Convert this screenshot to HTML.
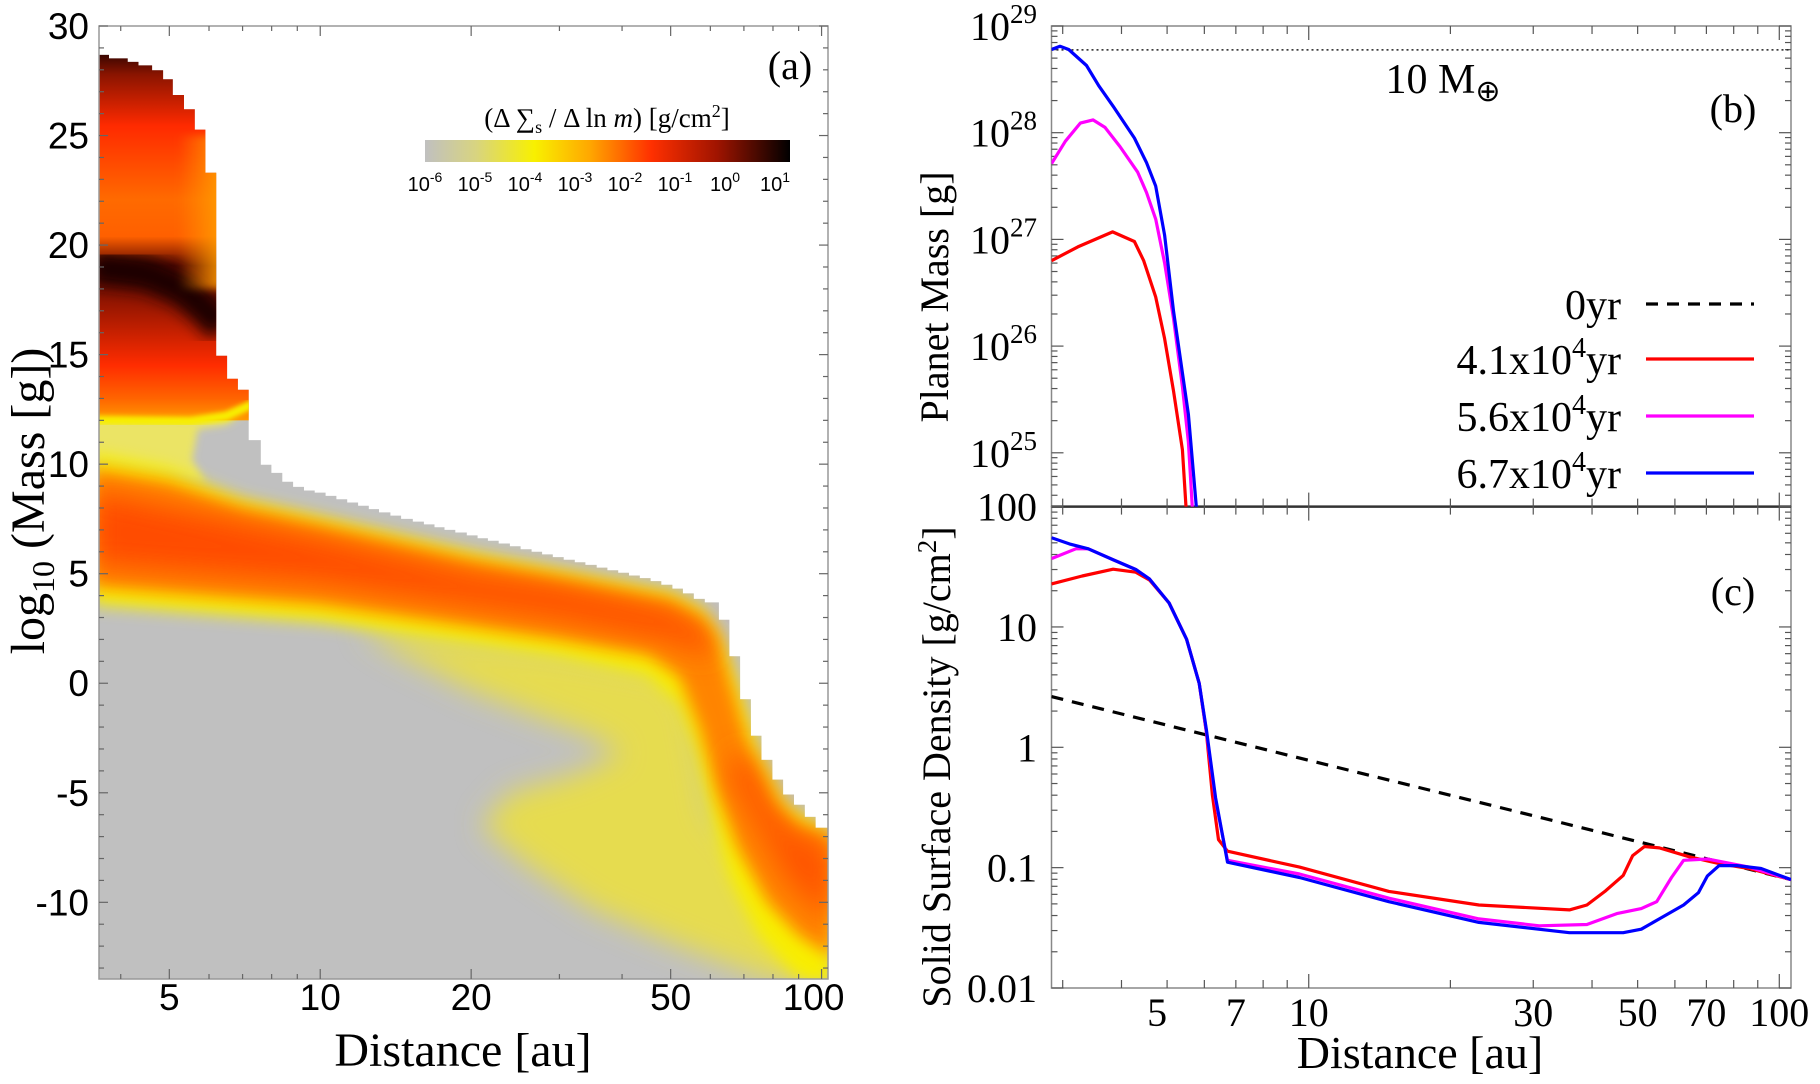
<!DOCTYPE html>
<html><head><meta charset="utf-8"><style>
html,body{margin:0;padding:0;background:#fff;}
svg{display:block;}
.serif{font-family:"Liberation Serif",serif;}
.sans{font-family:"Liberation Sans",sans-serif;}
</style></head><body>
<svg id="fig" width="1820" height="1084" viewBox="0 0 1820 1084">
<defs>
<filter id="blur8" x="-20%" y="-20%" width="140%" height="140%"><feGaussianBlur stdDeviation="8"/></filter>
<filter id="blur14" x="-20%" y="-20%" width="140%" height="140%"><feGaussianBlur stdDeviation="14"/></filter>
<filter id="blur4" x="-20%" y="-20%" width="140%" height="140%"><feGaussianBlur stdDeviation="4"/></filter>
<filter id="blur2" x="-20%" y="-20%" width="140%" height="140%"><feGaussianBlur stdDeviation="2.5"/></filter>
<linearGradient id="cbGrad" x1="0" y1="0" x2="1" y2="0">
<stop offset="0" stop-color="#c0c0c0"/><stop offset="0.14" stop-color="#d8d480"/>
<stop offset="0.3" stop-color="#f8f000"/><stop offset="0.45" stop-color="#ffa800"/>
<stop offset="0.62" stop-color="#ff3000"/><stop offset="0.8" stop-color="#a01400"/>
<stop offset="1" stop-color="#000000"/></linearGradient>
<clipPath id="clipA"><path id="envClip"/></clipPath>
<clipPath id="clipTop"><path id="topClip"/></clipPath>
<clipPath id="clipB"><rect x="1051.5" y="26" width="739.5" height="480.6"/></clipPath>
<clipPath id="clipC"><rect x="1051.5" y="506.6" width="739.5" height="481.4"/></clipPath>
</defs>
<g id="heat"></g>
<g id="axA"></g>
<g id="axB"></g>
<g id="axC"></g>
<g id="lines"></g>

<text class="serif" x="790" y="79" font-size="40" text-anchor="middle">(a)</text>
<text class="serif" x="607" y="127" font-size="27" text-anchor="middle">(Δ ∑<tspan font-size="18" dy="6">s</tspan><tspan dy="-6"> / Δ ln </tspan><tspan font-style="italic">m</tspan>) [g/cm<tspan font-size="18" dy="-10">2</tspan><tspan dy="10">]</tspan></text>
<rect x="425" y="140" width="365" height="22" fill="url(#cbGrad)"/>
<g id="cbLabels" class="sans" font-size="20"></g>

<text class="serif" x="463" y="1066" font-size="48" text-anchor="middle">Distance [au]</text>
<text class="serif" font-size="48" text-anchor="middle" transform="translate(44,501) rotate(-90)">log<tspan font-size="32" dy="10">10</tspan><tspan dy="-10"> (Mass [g])</tspan></text>

<text class="serif" x="1420" y="1068" font-size="46" text-anchor="middle">Distance [au]</text>
<text class="serif" font-size="40" text-anchor="middle" transform="translate(948,297) rotate(-90)">Planet Mass [g]</text>
<text class="serif" font-size="40" text-anchor="middle" transform="translate(950,767) rotate(-90)">Solid Surface Density [g/cm<tspan font-size="27" dy="-14">2</tspan><tspan dy="14">]</tspan></text>

<text class="serif" x="1443" y="93" font-size="42" text-anchor="middle">10 M<tspan font-size="30" dy="8">⊕</tspan></text>
<text class="serif" x="1733" y="122" font-size="40" text-anchor="middle">(b)</text>
<text class="serif" x="1733" y="605" font-size="40" text-anchor="middle">(c)</text>
<g id="legend" class="serif" font-size="42"></g>
</svg>
<script>
const NS='http://www.w3.org/2000/svg';
const svg=document.getElementById('fig');
function mk(tag,attrs,parent){const e=document.createElementNS(NS,tag);for(const k in attrs)e.setAttribute(k,attrs[k]);(parent||svg).appendChild(e);return e;}

// ---------- Panel (a) data ----------
const stepEdgesAu=[3.79,4.13,4.34,4.62,4.86,5.08,5.35,5.62,5.90,6.20,6.52,6.85,7.20,7.61,7.99,8.40,8.83,
9.28,9.75,10.25,10.77,11.32,11.9,12.5,13.1,13.8,14.5,15.3,16.1,16.9,17.7,18.6,19.6,20.6,21.6,22.7,23.9,25.1,26.4,27.7,29.1,30.6,32.2,33.8,35.6,37.4,39.3,41.3,43.4,45.6,47.9,50.4,52.9,55.6,58.5,
62.4,65.5,68.8,72.3,75.9,79.8,83.8,88.1,92.6,97.3,103];
const stepTopLogM=[28.68,28.52,28.36,28.2,27.98,27.57,26.85,26.2,25.27,23.3,14.95,13.9,13.4,11.1,9.97,9.6,9.2,
8.96,8.8,8.7,8.55,8.4,8.25,8.1,7.95,7.8,7.65,7.5,7.38,7.25,7.12,7.0,6.88,6.75,6.62,6.5,6.38,6.25,6.12,6.0,5.88,5.76,5.64,5.52,5.4,5.28,5.16,5.04,4.92,4.8,4.66,4.5,4.32,4.1,3.85,
3.69,2.9,1.23,-0.73,-2.4,-3.5,-4.4,-5.08,-5.55,-6.1,-6.6];
const paleTongue=[[12,2.5],[30,1.5],[50,0.5],[55,-1],[60,-6],[103,-12],[103,-13.6],[80,-13.6],[50,-11.8],[35,-10.3],[26,-8.3],[21,-6.5],[24,-5],[32,-4.2],[40,-3.2],[34,-2.3],[28,-1.6],[20,-0.3],[14,1.5]];
const yellowUpper=[[3.5,10.5],[5,9.8],[6,9.0],[7,8.4],[10,7.6],[20,6.0],[30,5.2],[50,4.2],[58,3.4],[63,2.2],[68,0],[75,-3],[85,-5.5],[105,-6.8]];
const yellowLower=[[3.5,3.6],[10,2.8],[20,1.8],[30,1.2],[45,0.3],[52,-1],[56,-3],[60,-6],[66,-9],[75,-11.5],[90,-13.5],[105,-13.8]];
const orangeUpper=[[3.5,9.8],[5,9.2],[7,8.0],[10,7.2],[20,5.6],[30,4.8],[50,3.8],[58,3.0],[62,2.0],[66,0],[72,-3],[80,-5.5],[90,-6.5],[105,-7]];
const orangeLower=[[3.5,4.4],[10,3.6],[20,2.6],[30,2.0],[45,1.3],[52,0.3],[57,-2],[62,-5],[68,-7.5],[78,-10],[90,-11.5],[105,-12.5]];
const coreUpper=[[3.5,8.8],[10,6.6],[20,5.0],[30,4.4],[50,3.3],[60,2.2]];
const coreLower=[[3.5,5.4],[10,4.6],[20,3.6],[30,3.0],[50,2.0],[60,1.2]];
const coreRUpper=[[70,-3],[85,-6.5],[105,-7.5]];
const coreRLower=[[65,-4],[85,-9],[105,-11]];
const midYellow=[[3.5,12.1],[5.5,12.0],[6.5,12.3],[7.2,12.9],[7.45,12.7],[6.5,11.8],[5.7,11.6],[5.55,10.2],[5.9,9.2],[5,9.6],[3.5,10.2]];
const topEdgeLine=[[3.5,12.0],[5.5,11.95],[6.5,12.2],[7.35,12.75]];
const darkArc=[[3.5,19.0],[4.5,18.7],[5.3,18.0],[5.9,17.1],[6.4,16.2]];
const cbTickExp=[-6,-5,-4,-3,-2,-1,0,1];

// ---------- Panel (b) data ----------
const bRedAu=[2.84,3.23,3.83,4.26,4.46,4.73,4.94,5.16,5.39,5.52];
const bRedM=[26.80,26.93,27.07,26.98,26.80,26.46,26.07,25.58,25.03,24.3];
const bMagAu=[2.84,3.04,3.27,3.48,3.69,3.97,4.33,4.52,4.73,4.94,5.16,5.39,5.55,5.69];
const bMagM=[27.71,27.92,28.09,28.12,28.05,27.87,27.63,27.44,27.19,26.78,26.26,25.62,25.10,24.3];
const bBluAu=[2.84,2.96,3.09,3.37,3.58,3.85,4.26,4.52,4.73,4.94,5.16,5.39,5.55,5.82];
const bBluM=[28.78,28.81,28.78,28.63,28.44,28.24,27.95,27.72,27.50,27.04,26.33,25.75,25.36,24.3];
const tenEarthLogM=28.776;
const bTickExp=[25,26,27,28,29];

// ---------- Panel (c) data ----------
const cRedAu=[2.84,3.3,3.84,4.29,4.59,5.05,5.5,5.85,6.06,6.24,6.43,6.72,9.56,14.8,23.0,35.8,39.0,42.6,46.6,48.8,51.7,55.6,64.4,74.5,86.2,105.9];
const cRedS=[22.8,26.5,30.2,28.5,24.5,15.8,7.9,3.4,1.33,0.40,0.171,0.137,0.101,0.0635,0.0489,0.0446,0.0489,0.0635,0.0863,0.126,0.150,0.146,0.123,0.108,0.0984,0.0796];
const cMagAu=[2.84,3.2,3.4,3.85,4.29,4.59,5.05,5.5,5.85,6.06,6.34,6.72,9.56,14.8,23.0,30.9,39.0,45.3,50.9,54.9,59.0,62.6,70.3,86.2,105.9];
const cMagS=[37,44.6,44.6,36,30,25,15.8,7.9,3.4,1.35,0.36,0.115,0.0885,0.0557,0.0375,0.0329,0.0337,0.0417,0.0457,0.0521,0.0828,0.115,0.118,0.101,0.0796];
const cBluAu=[2.84,3.1,3.4,3.85,4.29,4.59,5.05,5.5,5.85,6.06,6.34,6.72,9.56,14.8,23.0,35.8,46.6,50.9,55.6,62.6,67.3,70.3,74.5,81.3,91.5,105.9];
const cBluS=[55.2,49,44.6,36,30,25,15.8,7.9,3.4,1.4,0.38,0.111,0.0828,0.0521,0.0351,0.0288,0.0288,0.0308,0.0375,0.0489,0.0619,0.0851,0.104,0.104,0.0984,0.0796];
const c0Au=[2.84,10,30,105.9];
const c0S=[2.64,0.78,0.27,0.0796];
const cTickVals=[0.01,0.1,1,10,100];
const cTickLabels=['0.01','0.1','1','10','100'];
const bcXTicks=[5,7,10,30,50,70,100];
const aXTicks=[5,10,20,50,100];
const aYTicks=[-10,-5,0,5,10,15,20,25,30];

// ---------- Axis functions ----------
const A={x0:99,x1:828,y0:26,y1:979,l0:Math.log10(3.62),l1:Math.log10(103),m0:-13.5,m1:30};
function xa(au){return A.x0+(Math.log10(au)-A.l0)/(A.l1-A.l0)*(A.x1-A.x0);}
function ya(m){return A.y0+(A.m1-m)/(A.m1-A.m0)*(A.y1-A.y0);}
const BC={x0:1051.5,x1:1791,l0:Math.log10(2.84),l1:Math.log10(105.9)};
function xb(au){return BC.x0+(Math.log10(au)-BC.l0)/(BC.l1-BC.l0)*(BC.x1-BC.x0);}
function yb(lm){return 26+(29-lm)*106.7;}
function yc(s){return 506.6+(2-Math.log10(s))*120.35;}
function linePath(pts){return pts.map((p,i)=>(i?'L':'M')+xa(p[0]).toFixed(1)+','+ya(p[1]).toFixed(1)).join(' ');}
function polyPath(pts){return linePath(pts)+'Z';}
function bandPath(up,lo){return polyPath(up.concat(lo.slice().reverse()));}

// ---------- Heatmap envelope ----------
let d='M'+A.x0+','+ya(stepTopLogM[0]).toFixed(1);
for(let i=0;i<stepEdgesAu.length;i++){
  const x=Math.min(xa(stepEdgesAu[i]),A.x1);
  d+=' H'+x.toFixed(1);
  if(i+1<stepEdgesAu.length) d+=' V'+ya(stepTopLogM[i+1]).toFixed(1);
}
d+=' V'+A.y1+' H'+A.x0+' Z';
document.getElementById('envClip').setAttribute('d',d);
document.getElementById('topClip').setAttribute('d',d);

const heat=document.getElementById('heat');
const hg=mk('g',{'clip-path':'url(#clipA)'},heat);
const grayBg=mk('rect',{x:A.x0,y:A.y0,width:A.x1-A.x0,height:A.y1-A.y0,fill:'#c0c0c0'},hg);


const tongue=mk('path',{d:polyPath(paleTongue),fill:'#e6dc50',filter:'url(#blur14)'},hg);


const my=mk('path',{d:polyPath(midYellow),fill:'#ebe465',filter:'url(#blur4)'},hg);


const yb1=mk('path',{d:bandPath(yellowUpper,yellowLower),fill:'#f8ee00',filter:'url(#blur8)'},hg);


const ob=mk('path',{d:bandPath(orangeUpper,orangeLower),fill:'#ff8400',filter:'url(#blur8)'},hg);


const cb1=mk('path',{d:bandPath(coreUpper,coreLower),fill:'#ff4c00',filter:'url(#blur14)'},hg);


const cb2=mk('path',{d:bandPath(coreRUpper,coreRLower),fill:'#ff5400',filter:'url(#blur14)'},hg);



// top block
const tg=mk('g',{'clip-path':'url(#clipTop)'},heat);
const defs=svg.querySelector('defs');
const lg=mk('linearGradient',{id:'topGrad',x1:0,y1:ya(28.8),x2:0,y2:ya(12.0),gradientUnits:'userSpaceOnUse'},defs);
[[0,'#300400'],[0.06,'#8a1400'],[0.2,'#ff2a00'],[0.4,'#ff6a00'],[0.5,'#ff6000'],[0.58,'#600800'],[0.7,'#a01800'],[0.85,'#ff2c00'],[0.94,'#ff6400'],[1,'#ff9a00']].forEach(s=>mk('stop',{offset:s[0],'stop-color':s[1]},lg));
const topBlock=mk('rect',{x:A.x0,y:ya(30),width:xa(7.3)-A.x0,height:ya(12.0)-ya(30),fill:'url(#topGrad)'},tg);


const arc=mk('path',{d:linePath(darkArc),stroke:'#1a0200',fill:'none','stroke-width':34,filter:'url(#blur8)'},tg);


const hg2=mk('linearGradient',{id:'rightGrad',x1:xa(5.2),y1:0,x2:xa(6.3),y2:0,gradientUnits:'userSpaceOnUse'},defs);
mk('stop',{offset:0,'stop-color':'#ff9a00','stop-opacity':0},hg2);
mk('stop',{offset:1,'stop-color':'#ffa000','stop-opacity':0.85},hg2);
const rov=mk('rect',{x:xa(5.2),y:ya(25),width:xa(7.3)-xa(5.2),height:ya(18)-ya(25),fill:'url(#rightGrad)',filter:'url(#blur4)'},tg);


const edge=mk('path',{d:linePath(topEdgeLine),stroke:'#f8ee00',fill:'none','stroke-width':9,filter:'url(#blur2)'},tg);



// ---------- Panel (a) axes ----------
const axA=document.getElementById('axA');
mk('rect',{x:A.x0,y:A.y0,width:A.x1-A.x0,height:A.y1-A.y0,fill:'none',stroke:'#999','stroke-width':1.5},axA);
for(let m=-13;m<=30;m++){
  const y=ya(m), len=(m%5===0)?9:5;
  mk('line',{x1:A.x0,x2:A.x0+len,y1:y,y2:y,stroke:'#666','stroke-width':1.2},axA);
  mk('line',{x1:A.x1,x2:A.x1-len,y1:y,y2:y,stroke:'#666','stroke-width':1.2},axA);
}
aYTicks.forEach(v=>{
  const t=mk('text',{x:89,y:ya(v)+13,'font-size':37,'text-anchor':'end',class:'sans'},axA);
  t.textContent=String(v);
  
  
});
[4,5,6,7,8,9,10,20,30,40,50,60,70,80,90,100].forEach(v=>{
  const x=xa(v),len=aXTicks.includes(v)?10:5;
  mk('line',{x1:x,x2:x,y1:A.y1,y2:A.y1-len,stroke:'#666','stroke-width':1.2},axA);
  mk('line',{x1:x,x2:x,y1:A.y0,y2:A.y0+len,stroke:'#666','stroke-width':1.2},axA);
});
aXTicks.forEach(v=>{
  const t=mk('text',{x:xa(v)-(v===100?8:0),y:1010,'font-size':37,'text-anchor':'middle',class:'sans'},axA);
  t.textContent=String(v);
  
  
});
const cbl=document.getElementById('cbLabels');
cbTickExp.forEach((e,i)=>{
  const t=mk('text',{x:425+50*i,y:191,'text-anchor':'middle'},cbl);
  t.innerHTML='10<tspan font-size="14" dy="-9">'+e+'</tspan>';
  
  
});

// ---------- Panel (b)/(c) axes ----------
const axB=document.getElementById('axB'), axC=document.getElementById('axC');
mk('rect',{x:BC.x0,y:26,width:BC.x1-BC.x0,height:480.6,fill:'none',stroke:'#888','stroke-width':1.5},axB);
mk('rect',{x:BC.x0,y:506.6,width:BC.x1-BC.x0,height:481.4,fill:'none',stroke:'#888','stroke-width':1.5},axC);
mk('line',{x1:BC.x0,x2:BC.x1,y1:506.6,y2:506.6,stroke:'#333','stroke-width':2.5},axC);
for(let e=24;e<=29;e++){for(let k=1;k<10;k++){
  const lm=e+Math.log10(k); if(lm<24.49||lm>29)continue;
  const y=yb(lm),len=k===1?12:6;
  mk('line',{x1:BC.x0,x2:BC.x0+len,y1:y,y2:y,stroke:'#555','stroke-width':1.2},axB);
  mk('line',{x1:BC.x1,x2:BC.x1-len,y1:y,y2:y,stroke:'#555','stroke-width':1.2},axB);
}}
bTickExp.forEach(e=>{
  const t=mk('text',{x:1037,y:yb(e)+14,'font-size':40,'text-anchor':'end',class:'serif'},axB);
  t.innerHTML='10<tspan font-size="27" dy="-17">'+e+'</tspan>';
  
  
});
for(let e=-2;e<=2;e++){for(let k=1;k<10;k++){
  const s=Math.pow(10,e)*k; if(s>100)continue;
  const y=yc(s),len=k===1?12:6;
  mk('line',{x1:BC.x0,x2:BC.x0+len,y1:y,y2:y,stroke:'#555','stroke-width':1.2},axC);
  mk('line',{x1:BC.x1,x2:BC.x1-len,y1:y,y2:y,stroke:'#555','stroke-width':1.2},axC);
}}
cTickVals.forEach((v,i)=>{
  const t=mk('text',{x:1037,y:yc(v)+14,'font-size':40,'text-anchor':'end',class:'serif'},axC);
  t.textContent=cTickLabels[i];
  
  
});
[3,4,5,6,7,8,9,10,20,30,40,50,60,70,80,90,100].forEach(v=>{
  const x=xb(v),len=(v===10||v===100)?14:8;
  [[26,1],[506.6,-1],[506.6,1],[988,-1]].forEach(q=>mk('line',{x1:x,x2:x,y1:q[0],y2:q[0]+q[1]*len,stroke:'#555','stroke-width':1.2},axC));
});
bcXTicks.forEach(v=>{
  const t=mk('text',{x:xb(v)-(v===5?10:0),y:1026,'font-size':40,'text-anchor':'middle',class:'serif'},axC);
  t.textContent=String(v);
  
  
});

// ---------- Series ----------
const L=document.getElementById('lines');
const gB=mk('g',{'clip-path':'url(#clipB)'},L);
const gC=mk('g',{'clip-path':'url(#clipC)'},L);
const ref=mk('line',{x1:BC.x0,x2:BC.x1,y1:yb(tenEarthLogM),y2:yb(tenEarthLogM),stroke:'#222','stroke-width':1.5,'stroke-dasharray':'2,3'},gB);


function line(g,xs,ys,fx,fy,color,dash){
  const pts=xs.map((x,i)=>fx(x).toFixed(1)+','+fy(ys[i]).toFixed(1)).join(' ');
  const a={points:pts,fill:'none',stroke:color,'stroke-width':3.2,'stroke-linejoin':'round'};
  if(dash)a['stroke-dasharray']=dash;
  return mk('polyline',a,g);
}
const s1=line(gB,bRedAu,bRedM,xb,yb,'#ff0000');


const s2=line(gB,bMagAu,bMagM,xb,yb,'#ff00ff');


const s3=line(gB,bBluAu,bBluM,xb,yb,'#0000ff');


const s4=line(gC,c0Au,c0S,xb,yc,'#000000','12,9');


const s7=line(gC,cRedAu,cRedS,xb,yc,'#ff0000');


const s5=line(gC,cMagAu,cMagS,xb,yc,'#ff00ff');


const s6=line(gC,cBluAu,cBluS,xb,yc,'#0000ff');



// ---------- Legend ----------
const leg=document.getElementById('legend');
const legLabels=['0yr','4.1x10<tspan font-size="28" dy="-17">4</tspan><tspan dy="17">yr</tspan>','5.6x10<tspan font-size="28" dy="-17">4</tspan><tspan dy="17">yr</tspan>','6.7x10<tspan font-size="28" dy="-17">4</tspan><tspan dy="17">yr</tspan>'];
const legColors=['#000','#ff0000','#ff00ff','#0000ff'];
const legY=[304,359,416,473];
legLabels.forEach((lab,i)=>{
  const t=mk('text',{x:1621,y:legY[i]+15,'text-anchor':'end'},leg);
  t.innerHTML=lab;
  
  
  const a={x1:1646,x2:1754,y1:legY[i],y2:legY[i],stroke:legColors[i],'stroke-width':3.2};
  if(i===0)a['stroke-dasharray']='12,9';
  const l=mk('line',a,leg);
  
  
});
</script>
</body></html>
